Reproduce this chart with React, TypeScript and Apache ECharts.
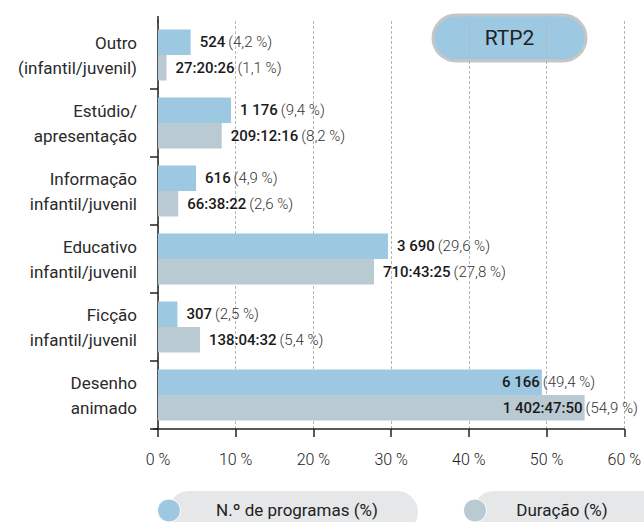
import React, { useEffect, useRef } from "react";
import * as echarts from "echarts";

const categories = [
  "Outro\n(infantil/juvenil)",
  "Estúdio/\napresentação",
  "Informação\ninfantil/juvenil",
  "Educativo\ninfantil/juvenil",
  "Ficção\ninfantil/juvenil",
  "Desenho\nanimado",
];
const programPct = [4.2, 9.4, 4.9, 29.6, 2.5, 49.4];
const programCount = ["524", "1 176", "616", "3 690", "307", "6 166"];
const durationPct = [1.1, 8.2, 2.6, 27.8, 5.4, 54.9];
const durationText = ["27:20:26", "209:12:16", "66:38:22", "710:43:25", "138:04:32", "1 402:47:50"];
const xTicks = [0, 10, 20, 30, 40, 50, 60];
const seriesNames = ["N.º de programas (%)", "Duração (%)"];
const badgeText = "RTP2";

const FONT = "Roboto, 'DejaVu Sans Condensed', sans-serif";
const BLUE = "#9dc8e2";
const GREY = "#b9cad3";
const LABEL_SIZE = 15;
const LABEL_DIST = 9;
// indices whose label number sits inside the bar end (as in the source)
const insideIdx = [5];

function measure(text: string, weight: string, size: number) {
  const c = document.createElement("canvas").getContext("2d");
  if (!c) return text.length * 7;
  c.font = `${weight} ${size}px ${FONT}`;
  return c.measureText(text).width;
}

const fmtPct = (v: number) => `(${v.toFixed(1).replace(".", ",")} %)`;

function buildData(pcts: number[], texts: string[]) {
  return pcts.map((v, i) => {
    const item: any = { value: v };
    if (insideIdx.includes(i)) {
      const w = measure(texts[i], "500", LABEL_SIZE);
      item.label = { offset: [-(w + LABEL_DIST + 2), 0] };
    }
    return item;
  });
}

export default function App() {
  const ref = useRef<HTMLDivElement>(null);
  useEffect(() => {
    if (!ref.current) return;
    const chart = echarts.init(ref.current, undefined, { renderer: "svg" });
    const labelRich = {
      n: { fontFamily: FONT, fontSize: LABEL_SIZE, fontWeight: 500, color: "#1a1a1a" },
      p: { fontFamily: FONT, fontSize: LABEL_SIZE, fontWeight: 300, color: "#333" },
    };
    const mkLabel = (texts: string[], pcts: number[]) => ({
      show: true,
      position: "right",
      distance: LABEL_DIST,
      formatter: (p: any) => `{n|${texts[p.dataIndex]}} {p|${fmtPct(pcts[p.dataIndex])}}`,
      rich: labelRich,
    });
    chart.setOption({
      animation: false,
      textStyle: { fontFamily: FONT },
      grid: { left: 158, right: 17, top: 21, bottom: 93, containLabel: false },
      legend: { show: false, data: seriesNames },
      xAxis: {
        type: "value",
        min: 0,
        max: 60,
        interval: 10,
        axisLine: { show: true, lineStyle: { color: "#222", width: 1.5 } },
        axisTick: { show: true, length: 8, lineStyle: { color: "#222", width: 1.5 } },
        splitLine: { show: true, lineStyle: { color: "#b5b5b5", type: [3, 2], width: 1 } },
        axisLabel: {
          formatter: (v: number) => (xTicks.includes(v) ? `${v} %` : ""),
          fontSize: 16,
          fontWeight: 300,
          color: "#222",
          margin: 22,
          fontFamily: FONT,
        },
      },
      yAxis: {
        type: "category",
        inverse: true,
        data: categories,
        axisLine: { show: true, lineStyle: { color: "#222", width: 1.5 } },
        axisTick: {
          show: true,
          length: 8,
          interval: (i: number) => i !== 0,
          lineStyle: { color: "#222", width: 1.5 },
        },
        axisLabel: {
          fontSize: 17,
          fontWeight: 400,
          lineHeight: 25,
          color: "#2a2a2a",
          margin: 21,
          fontFamily: FONT,
          align: "right",
        },
      },
      series: [
        {
          name: seriesNames[0],
          type: "bar",
          data: buildData(programPct, programCount),
          barWidth: 25.5,
          barGap: "0%",
          itemStyle: { color: BLUE },
          label: mkLabel(programCount, programPct),
        },
        {
          name: seriesNames[1],
          type: "bar",
          data: buildData(durationPct, durationText),
          barWidth: 25.5,
          barGap: "0%",
          itemStyle: { color: GREY },
          label: mkLabel(durationText, durationPct),
        },
      ],
      graphic: [
        { type: "line", shape: { x1: 158, y1: 16, x2: 158, y2: 22 }, style: { stroke: "#222", lineWidth: 1.5 } },
        { type: "line", shape: { x1: 153, y1: 429, x2: 159, y2: 429 }, style: { stroke: "#222", lineWidth: 1.5 } },
        {
          type: "rect",
          shape: { x: 433, y: 15, width: 153, height: 46, r: 23 },
          style: { fill: BLUE, stroke: "#c6c6c6", lineWidth: 3 },
        },
        {
          type: "text",
          x: 509.5,
          y: 38,
          style: {
            text: badgeText,
            fontFamily: FONT,
            fontSize: 21,
            fontWeight: 400,
            fill: "#222",
            align: "center",
            verticalAlign: "middle",
          },
        },
        {
          type: "rect",
          shape: { x: 168, y: 491, width: 250, height: 42, r: 21 },
          style: { fill: "#e6e7e8" },
        },
        { type: "circle", shape: { cx: 169, cy: 510.5, r: 11.5 }, style: { fill: BLUE, stroke: "#fff", lineWidth: 1 } },
        {
          type: "text",
          x: 297,
          y: 510,
          style: {
            text: seriesNames[0],
            fontFamily: FONT,
            fontSize: 17,
            fill: "#222",
            align: "center",
            verticalAlign: "middle",
          },
        },
        {
          type: "rect",
          shape: { x: 473, y: 491, width: 200, height: 42, r: 21 },
          style: { fill: "#e6e7e8" },
        },
        { type: "circle", shape: { cx: 475, cy: 510.5, r: 11.5 }, style: { fill: GREY, stroke: "#fff", lineWidth: 1 } },
        {
          type: "text",
          x: 562,
          y: 510,
          style: {
            text: seriesNames[1],
            fontFamily: FONT,
            fontSize: 17,
            fill: "#222",
            align: "center",
            verticalAlign: "middle",
          },
        },
      ],
    });
    return () => chart.dispose();
  }, []);
  return (
    <div
      ref={ref}
      style={{ position: "fixed", left: 0, top: 0, width: 644, height: 522, background: "#fff" }}
    />
  );
}
